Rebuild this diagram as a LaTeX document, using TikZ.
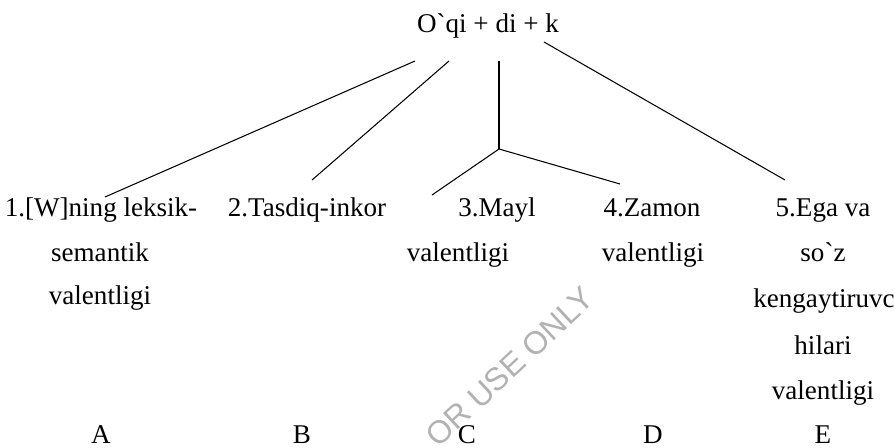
\documentclass[tikz,border=0pt]{standalone}
\usepackage{fontspec}
\newfontfamily\serifplain{Liberation Serif}
\newfontfamily\wmfont{Liberation Sans}
\usepackage{tikz}
\newcommand{\grv}{\symbol{96}}

\begin{document}
\begin{tikzpicture}[
    word/.style={anchor=base, inner sep=0pt, font=\serifplain\fontsize{15.4}{18}\selectfont},
    branch/.style={line width=0.6pt},
    stamp/.style={anchor=center, inner sep=0pt, rotate=43, black!30, font=\wmfont\fontsize{18.2}{20}\selectfont}
]
\useasboundingbox (0,0) rectangle (17.9,-8.96);

% Watermark
\node[stamp] (wm) at (10.20,-7.34) {OR USE ONLY};

% Root
\node[word] (root) at (9.76,-0.66) {O\grv qi + di + k};

% Column A
\node[word] (a1) at (2.02,-4.34) {1.[W]ning leksik-};
\node[word] (a2) at (2.00,-5.24) {semantik};
\node[word] (a3) at (2.00,-6.10) {valentligi};

% Column B
\node[word] (b1) at (6.14,-4.34) {2.Tasdiq-inkor};

% Column C
\node[word] (c1) at (9.94,-4.34) {3.Mayl};
\node[word] (c2) at (9.16,-5.24) {valentligi};

% Column D
\node[word] (d1) at (13.04,-4.34) {4.Zamon};
\node[word] (d2) at (13.06,-5.24) {valentligi};

% Column E
\node[word] (e1) at (16.46,-4.34) {5.Ega va};
\node[word] (e2) at (16.46,-5.24) {so\grv z};
\node[word] (e3) at (16.48,-6.16) {kengaytiruvc};
\node[word] (e4) at (16.46,-7.10) {hilari};
\node[word] (e5) at (16.46,-8.00) {valentligi};

% Letters
\node[word] (la) at (2.02,-8.86) {A};
\node[word] (lb) at (6.04,-8.86) {B};
\node[word] (lc) at (9.34,-8.86) {C};
\node[word] (ld) at (13.06,-8.86) {D};
\node[word] (le) at (16.46,-8.86) {E};

% Line ends
\coordinate (r1) at (8.30,-1.22);
\coordinate (r2) at (8.98,-1.22);
\coordinate (r3) at (9.98,-1.22);
\coordinate (r5) at (10.88,-0.84);
\coordinate (fork) at (9.98,-2.98);
\coordinate (ta) at (2.10,-3.94);
\coordinate (tb) at (6.24,-3.60);
\coordinate (tc) at (8.64,-3.90);
\coordinate (td) at (12.40,-3.68);
\coordinate (te) at (15.70,-3.60);

% Branches
\draw[branch] (r1) -- (ta);
\draw[branch] (r2) -- (tb);
\draw[branch] (r3) -- (fork);
\draw[branch] (fork) -- (tc);
\draw[branch] (fork) -- (td);
\draw[branch] (r5) -- (te);

\end{tikzpicture}
\end{document}
